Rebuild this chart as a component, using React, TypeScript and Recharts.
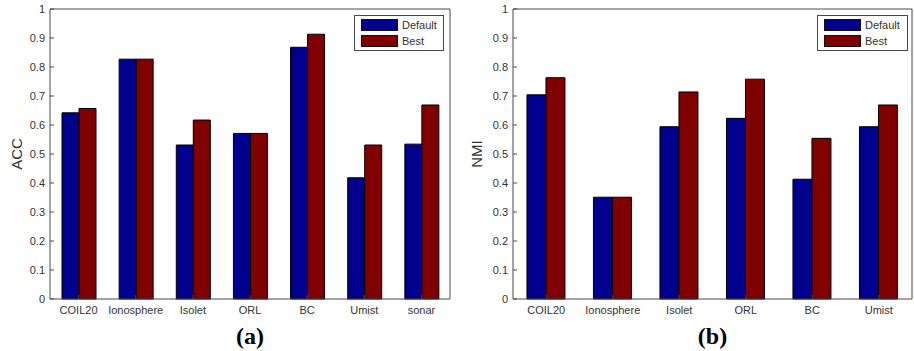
import { BarChart, Bar, XAxis, YAxis, Legend } from 'recharts';

const accCategories = ['COIL20', 'Ionosphere', 'Isolet', 'ORL', 'BC', 'Umist', 'sonar'];
const accDefault = [0.642, 0.827, 0.531, 0.571, 0.868, 0.418, 0.534];
const accBest = [0.657, 0.827, 0.617, 0.571, 0.913, 0.531, 0.669];

const nmiCategories = ['COIL20', 'Ionosphere', 'Isolet', 'ORL', 'BC', 'Umist'];
const nmiDefault = [0.704, 0.351, 0.594, 0.623, 0.413, 0.594];
const nmiBest = [0.763, 0.351, 0.714, 0.758, 0.554, 0.669];

const seriesOrder = ['Default', 'Best'];
const yTicks = [0, 0.1, 0.2, 0.3, 0.4, 0.5, 0.6, 0.7, 0.8, 0.9, 1];

const blue = '#00008f';
const red = '#800000';
const axisColor = '#4a4a4a';
const textColor = '#333';
const font = '"Liberation Sans", Arial, sans-serif';

const renderLegend = ({ payload }: any) => {
  // keep the legend in series order (recharts sorts by name otherwise)
  const items = [...(payload || [])].sort(
    (a: any, b: any) => seriesOrder.indexOf(a.value) - seriesOrder.indexOf(b.value)
  );
  return (
    <div
      style={{
        border: `1px solid ${axisColor}`,
        background: '#fff',
        padding: '1px 0 1px 6px',
        boxSizing: 'border-box',
        fontFamily: font,
      }}
    >
      {items.map((entry: any) => (
        <div key={entry.value} style={{ display: 'flex', alignItems: 'center', height: 16 }}>
          <span
            style={{
              display: 'inline-block',
              width: 37,
              height: 12,
              background: entry.color,
              border: '1px solid #111',
              boxSizing: 'border-box',
            }}
          />
          <span style={{ marginLeft: 4, fontSize: 11, color: textColor }}>{entry.value}</span>
        </div>
      ))}
    </div>
  );
};

interface PanelProps {
  left: number;
  width: number;
  marginLeft: number;
  marginRight: number;
  categories: string[];
  def: number[];
  best: number[];
  yLabel: string;
  yLabelOffset: number;
  caption: string;
  legendLeft: number;
  legendWidth: number;
}

const Panel = (p: PanelProps) => {
  const data = p.categories.map((name, i) => ({ name, Default: p.def[i], Best: p.best[i] }));
  const plotWidth = p.width - p.marginLeft - p.marginRight;

  return (
    <div style={{ position: 'absolute', left: p.left, top: 0, width: p.width, height: 351 }}>
      <BarChart
        width={p.width}
        height={351}
        data={data}
        margin={{ top: 8, right: p.marginRight - 1, bottom: 32, left: p.marginLeft - 1 }}
        barCategoryGap='21%'
        barGap={0}
      >
        <XAxis
          xAxisId='bottom'
          dataKey='name'
          height={20}
          interval={0}
          tickSize={-4}
          tickMargin={11}
          stroke={axisColor}
          tick={{ fill: textColor, fontSize: 11, fontFamily: font }}
        />
        <XAxis
          xAxisId='top'
          orientation='top'
          dataKey='name'
          height={1}
          interval={0}
          tickSize={-4}
          tick={false}
          stroke={axisColor}
        />
        <YAxis
          yAxisId='left'
          width={1}
          domain={[0, 1]}
          ticks={yTicks}
          interval={0}
          tickSize={-4}
          tickMargin={9}
          stroke={axisColor}
          tick={{ fill: textColor, fontSize: 11, fontFamily: font }}
          label={{
            content: ({ viewBox }: any) => {
              const cx = viewBox.x + viewBox.width - p.yLabelOffset;
              const cy = viewBox.y + viewBox.height / 2;
              return (
                <text
                  x={cx}
                  y={cy}
                  transform={`rotate(-90, ${cx}, ${cy})`}
                  textAnchor='middle'
                  dominantBaseline='central'
                  fontSize={15}
                  fontFamily={font}
                  fill={textColor}
                >
                  {p.yLabel}
                </text>
              );
            },
          }}
        />
        <YAxis
          yAxisId='right'
          orientation='right'
          width={1}
          domain={[0, 1]}
          ticks={yTicks}
          interval={0}
          tickSize={-4}
          tick={false}
          stroke={axisColor}
        />
        <Legend
          layout='vertical'
          align='center'
          verticalAlign='middle'
          content={renderLegend}
          wrapperStyle={{ left: p.legendLeft, top: 15, width: p.legendWidth, height: 35 }}
        />
        <Bar xAxisId='bottom' yAxisId='left' dataKey='Default' fill={blue} stroke='#000' isAnimationActive={false} />
        <Bar xAxisId='bottom' yAxisId='left' dataKey='Best' fill={red} stroke='#000' isAnimationActive={false} />
      </BarChart>
      <div
        style={{
          position: 'absolute',
          left: p.marginLeft,
          width: plotWidth,
          top: 322,
          lineHeight: '28px',
          textAlign: 'center',
          fontFamily: '"Liberation Serif", "Times New Roman", serif',
          fontWeight: 'bold',
          fontSize: 24,
          color: '#000',
        }}
      >
        {p.caption}
      </div>
    </div>
  );
};

export default function App() {
  return (
    <div style={{ position: 'absolute', left: 0, top: 0, width: 914, height: 351, background: '#fff' }}>
      <Panel
        left={0}
        width={460}
        marginLeft={50}
        marginRight={10}
        categories={accCategories}
        def={accDefault}
        best={accBest}
        yLabel='ACC'
        yLabelOffset={34}
        caption='(a)'
        legendLeft={354}
        legendWidth={90}
      />
      <Panel
        left={455}
        width={459}
        marginLeft={58}
        marginRight={2}
        categories={nmiCategories}
        def={nmiDefault}
        best={nmiBest}
        yLabel='NMI'
        yLabelOffset={37}
        caption='(b)'
        legendLeft={362}
        legendWidth={91}
      />
    </div>
  );
}
